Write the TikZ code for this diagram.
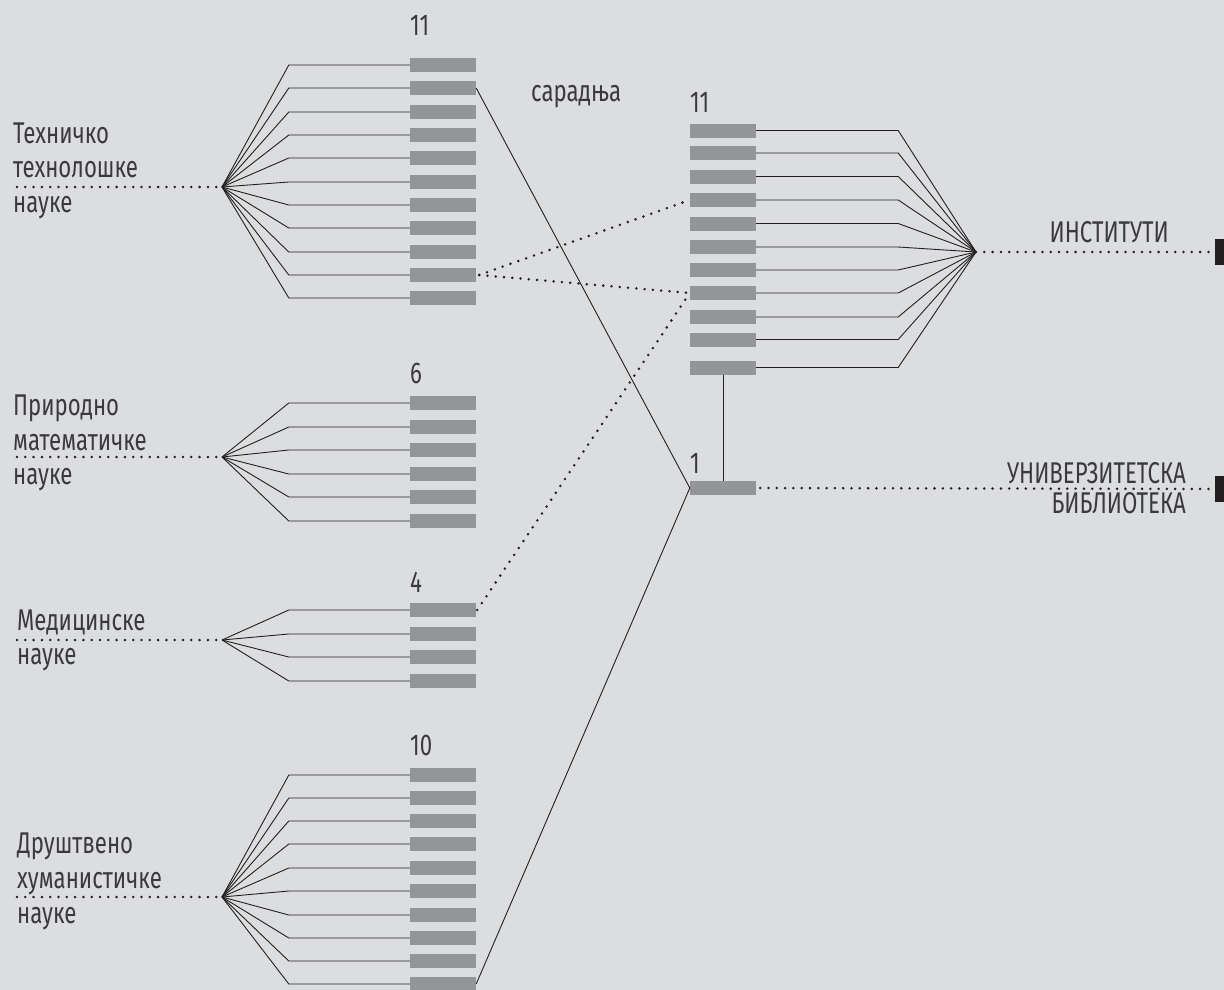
\documentclass[tikz,border=0pt]{standalone}
\usepackage{fontspec}
\setmainfont{Fira Sans}[FakeStretch=0.74]
\definecolor{bg}{HTML}{DCDDDF}
\definecolor{barc}{HTML}{939598}
\definecolor{ink}{HTML}{231F20}
\definecolor{txt}{HTML}{3A3A3C}
\begin{document}
\begin{tikzpicture}[x=1pt,y=-1pt,
  bar/.style={rectangle,fill=barc,inner sep=0pt,minimum width=66pt,minimum height=14pt},
  endmark/.style={rectangle,fill=ink,inner sep=0pt,minimum width=14pt,minimum height=26pt,anchor=west},
  conn/.style={draw=ink,line width=0.9pt},
  dotline/.style={draw=ink,line width=2.8pt,line cap=round,dash pattern=on 0pt off 8.3pt},
  lbl/.style={text=txt,inner sep=0pt,font=\fontsize{30}{36}\selectfont}]
\fill[bg] (0,0) rectangle (1224,990);
\useasboundingbox (0,0) rectangle (1224,990);

% hubs
\coordinate (ttH) at (222,187);
\coordinate (pmH) at (222,457);
\coordinate (mdH) at (222,640);
\coordinate (dhH) at (222,897);
\coordinate (inH) at (976,252);
\coordinate (ttS) at (17,187);
\coordinate (pmS) at (17,457);
\coordinate (mdS) at (17,640);
\coordinate (dhS) at (17,897);

% left groups
\foreach \y [count=\i] in {65,88,112,135,158,182,205,228,252,275,298}{
  \node[bar] (tt\i) at (443,\y) {};
  \draw[conn] (tt\i.west) -- ++(-121,0) -- (ttH);
}
\foreach \y [count=\i] in {403,427,450,474,497,521}{
  \node[bar] (pm\i) at (443,\y) {};
  \draw[conn] (pm\i.west) -- ++(-121,0) -- (pmH);
}
\foreach \y [count=\i] in {610,634,657,681}{
  \node[bar] (md\i) at (443,\y) {};
  \draw[conn] (md\i.west) -- ++(-121,0) -- (mdH);
}
\foreach \y [count=\i] in {775,798,821,844,868,891,915,938,961,984}{
  \node[bar] (dh\i) at (443,\y) {};
  \draw[conn] (dh\i.west) -- ++(-121,0) -- (dhH);
}
% right group
\foreach \y [count=\i] in {130.5,153,176.5,200,223.5,247,270,293,317,339.5,367.5}{
  \node[bar] (in\i) at (723,\y) {};
  \draw[conn] (in\i.east) -- ++(142,0) -- (inH);
}
\node[bar] (lib) at (723,488) {};

% end markers
\node[endmark] (inM) at (1215,252) {};
\node[endmark] (libM) at (1215,489) {};

% dotted lines
\draw[dotline] (ttS) -- (ttH);
\draw[dotline] (pmS) -- (pmH);
\draw[dotline] (mdS) -- (mdH);
\draw[dotline] (dhS) -- (dhH);
\draw[dotline] (inH) -- (inM.west);
\draw[dotline] ([xshift=4pt]lib.east) -- (libM.west);
\draw[dotline] ([xshift=3pt]tt10.east) -- (in4.west);
\draw[dotline] ([xshift=3pt]tt10.east) -- (in8.west);
\draw[dotline] ([xshift=1pt]md1.east) -- (in8.west);

% solid connectors
\draw[conn] (tt2.east) -- (lib.west);
\draw[conn] (dh10.east) -- (lib.west);
\draw[conn] (in11.south) -- (lib.north);

% labels
\node[lbl,anchor=base west] (ttA) at (13,143) {Техничко};
\node[lbl,anchor=base west] (ttB) at (13,177) {технолошке};
\node[lbl,anchor=base west] (ttC) at (13,212) {науке};
\node[lbl,anchor=base west] (pmA) at (13,415) {Природно};
\node[lbl,anchor=base west] (pmB) at (13,450) {математичке};
\node[lbl,anchor=base west] (pmC) at (13,484) {науке};
\node[lbl,anchor=base west] (mdA) at (17,630) {Медицинске};
\node[lbl,anchor=base west] (mdB) at (17,664) {науке};
\node[lbl,anchor=base west] (dhA) at (17,853) {Друштвено};
\node[lbl,anchor=base west] (dhB) at (17,888) {хуманистичке};
\node[lbl,anchor=base west] (dhC) at (17,923) {науке};

\node[lbl,anchor=base west] (ttN) at (410,36) {11};
\node[lbl,anchor=base west] (pmN) at (410,383) {6};
\node[lbl,anchor=base west] (mdN) at (410,592) {4};
\node[lbl,anchor=base west] (dhN) at (410,755) {10};
\node[lbl,anchor=base west] (inN) at (690,113) {11};
\node[lbl,anchor=base west] (libN) at (690,473) {1};
\node[lbl,anchor=base west] (sar) at (531,102) {сарадња};

\node[lbl,anchor=base east] (inL) at (1169,242) {ИНСТИТУТИ};
\node[lbl,anchor=base east] (libL1) at (1186,483) {УНИВЕРЗИТЕТСКА};
\node[lbl,anchor=base east] (libL2) at (1186,513) {БИБЛИОТЕКА};
\end{tikzpicture}
\end{document}
